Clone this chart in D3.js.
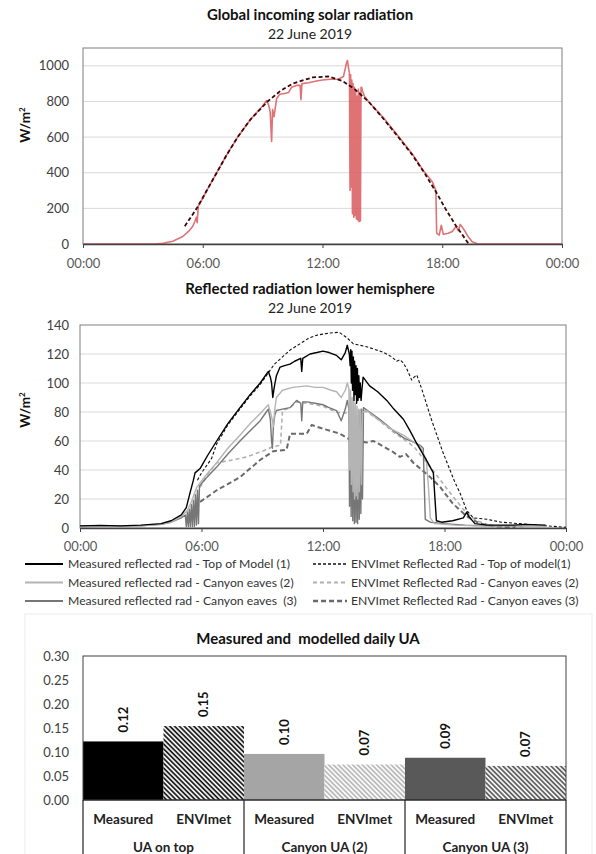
<!DOCTYPE html>
<html>
<head>
<meta charset="utf-8">
<script src="https://cdn.jsdelivr.net/npm/d3@7"></script>
<style>
  body { margin: 0; background: #fff; }
  svg text { font-family: Lato, "Liberation Sans", sans-serif; }
</style>
</head>
<body>
<svg id="chart" width="596" height="854"></svg>
<script>
// ---- data (hour of day, value) ----
var timeTicks = [0, 6, 12, 18, 24];
var timeLabels = ['00:00', '06:00', '12:00', '18:00', '00:00'];

var globalMeasured = [
  [0,0],[3.6,0],[4.0,4],[4.5,15],[5.0,42],[5.3,72],[5.5,100],[5.6,125],[5.68,150],[5.72,120],
  [5.78,215],[5.85,225],[6.2,300],[6.7,400],[7.2,500],[7.75,600],[8.4,700],[9.0,775],[9.2,805],
  [9.3,780],[9.38,740],[9.45,575],[9.5,755],[9.57,715],[9.7,815],[9.85,840],[10.1,845],[10.3,850],
  [10.45,880],[10.7,890],[10.88,890],[10.92,810],[10.97,900],[11.3,905],[11.7,915],[12.0,920],
  [12.4,925],[12.8,925],[13.05,940],[13.2,1015],[13.25,1030],[13.3,990],[13.35,960],[13.38,300],
  [13.41,950],[13.44,320],[13.47,920],[13.5,170],[13.53,900],[13.57,150],[13.6,880],[13.63,160],
  [13.66,860],[13.7,140],[13.73,830],[13.77,135],[13.8,870],[13.83,125],[13.87,850],[13.9,130],
  [13.93,880],[13.96,880],[14.0,860],[14.1,830],[14.3,800],[15.0,715],[15.8,605],[16.5,505],
  [17.1,405],[17.5,350],[17.68,300],[17.72,60],[17.85,50],[17.95,105],[18.05,55],[18.3,60],
  [18.5,70],[18.7,100],[18.8,75],[18.9,110],[19.0,95],[19.15,70],[19.3,40],[19.5,12],[19.8,0],[24,0]
];
var globalModel = [
  [5.1,100],[5.7,200],[6.2,300],[6.7,400],[7.2,500],[7.75,600],[8.4,700],[9.25,800],[9.9,860],
  [10.5,900],[11.5,935],[12.3,940],[13.0,915],[13.6,870],[14.3,800],[15.0,710],[15.8,600],
  [16.5,500],[17.1,400],[17.7,290],[18.15,200],[18.7,100],[19.3,5]
];

var reflTopMeasured = [
  [0,1.5],[1,1.8],[2,1.5],[3,2],[4,3],[4.5,5],[5.0,9],[5.25,14],[5.43,24],[5.6,33],[5.68,38],
  [5.93,41],[6.3,50],[6.75,60],[7.3,72],[7.9,83],[8.4,92],[8.9,100],[9.3,108],[9.4,104],[9.46,100],
  [9.52,90],[9.58,96],[9.63,100],[9.7,105],[9.88,111],[10.1,112],[10.37,113],[10.6,115],[10.9,117],
  [10.95,108],[11.0,117],[11.36,120],[11.7,121],[12.0,122],[12.3,121],[12.67,119],[12.9,116],
  [13.1,121],[13.2,126],[13.3,120],[13.34,112],[13.37,123],[13.4,100],[13.43,122],[13.46,95],
  [13.5,118],[13.53,88],[13.56,115],[13.6,92],[13.63,112],[13.66,86],[13.7,110],[13.73,88],
  [13.77,105],[13.8,90],[13.84,100],[13.88,88],[13.92,95],[13.98,104],[14.3,98],[14.7,94],
  [15.15,88],[15.5,82],[15.97,75],[16.3,67],[16.6,59],[17.1,47],[17.45,38],[17.53,20],[17.6,5],
  [17.86,4],[18.4,5],[18.93,7],[19.1,11],[19.2,8],[19.26,7],[19.5,3],[20.1,2],[21.4,2],[22,2.5],[23,2]
];
var reflCanyon2Measured = [
  [0,1],[3,1.5],[4,2.5],[4.5,4],[5.0,8],[5.3,12],[5.5,18],[5.76,28],[6.2,36],[6.75,45],[7.3,55],
  [7.9,64],[8.4,72],[8.9,79],[9.3,85],[9.4,80],[9.46,77],[9.55,70],[9.62,82],[9.7,90],[10.0,95],
  [10.5,97],[11.2,98],[11.6,97],[12.0,97],[12.4,95],[12.67,94],[12.9,90],[13.1,95],[13.2,100],
  [13.28,96],[13.32,40],[13.36,95],[13.4,30],[13.44,90],[13.48,25],[13.52,88],[13.56,20],[13.6,86],
  [13.64,22],[13.68,84],[13.72,20],[13.76,82],[13.8,25],[13.85,82],[13.9,30],[13.95,80],[14.15,81],
  [14.8,74],[15.4,68],[15.97,64],[16.4,60],[16.8,56],[17.1,47],[17.2,30],[17.3,7],[17.5,3],
  [18.5,2],[19.5,1.5],[21,1.5],[22,2],[23,1.5]
];
var reflCanyon3Measured = [
  [0,1],[3,1.5],[4,2.5],[4.5,4],[5.0,7],[5.2,9],[5.25,1],[5.3,11],[5.35,1],[5.4,13],[5.45,1],
  [5.5,16],[5.55,1],[5.6,19],[5.65,1],[5.7,23],[5.75,2],[5.8,26],[5.85,3],[5.9,29],[6.2,34],
  [6.75,42],[7.3,51],[7.9,60],[8.4,67],[8.9,74],[9.2,80],[9.3,82],[9.4,75],[9.46,60],[9.5,55],
  [9.55,70],[9.62,78],[9.7,81],[10.0,82],[10.37,83],[10.7,88],[10.9,86],[10.95,74],[11.0,87],
  [11.2,87],[11.6,86],[12.0,85],[12.3,83],[12.67,81],[12.9,74],[13.1,82],[13.2,88],[13.28,82],
  [13.31,15],[13.35,84],[13.39,8],[13.43,80],[13.47,5],[13.51,78],[13.55,3],[13.59,76],[13.63,4],
  [13.67,75],[13.71,3],[13.75,78],[13.79,6],[13.83,80],[13.87,10],[13.91,82],[13.95,20],[14.0,83],
  [14.3,80],[14.8,75],[15.4,68],[16.0,62],[16.5,59],[16.8,57],[16.95,55],[17.05,6],[17.3,4],
  [18.0,3],[19,2],[20,1.5],[21.5,1.5],[23,1.5]
];
var reflTopModel = [
  [5.8,33],[6.0,38],[6.5,48],[6.75,58],[7.3,71],[7.9,82],[8.4,91],[8.9,99],[9.3,107],[9.6,113],
  [10.0,118],[10.4,123],[10.86,127],[11.3,131],[11.7,133],[12.35,134.5],[12.8,135],[13.2,131],
  [13.5,127],[14.15,125],[14.6,123],[15.0,121],[15.4,118],[15.64,115],[15.8,116],[15.95,114],
  [16.13,110],[16.38,102],[16.5,104],[16.63,105.5],[16.85,97],[17.1,86],[17.35,75],[17.6,65],
  [17.9,53],[18.27,40],[18.5,32],[18.77,24],[19.1,12],[19.42,7],[20.1,6],[20.8,4],[21.7,3],
  [23,1.5],[24,0.5]
];
var reflCanyon2Model = [
  [5.93,28],[6.3,37],[6.75,45],[7.56,47],[8.23,49],[9.2,54],[9.5,56],[9.9,57],[10.0,81],
  [10.37,83],[10.7,87],[11.2,86],[11.6,85],[12.0,84],[12.3,82],[12.67,80],[13.0,79],[13.3,80],
  [14.0,81],[14.3,79],[14.8,74],[15.4,67],[16.0,61],[16.5,56],[17.0,47],[17.3,42],[17.8,33],
  [18.4,22],[19.1,10],[19.6,5],[20.2,2],[21,1],[22,0.5]
];
var reflCanyon3Model = [
  [5.93,18],[6.75,26],[7.9,35],[8.9,47],[9.55,53],[10.2,54],[10.3,60],[10.37,65],[11.2,65],
  [11.44,71],[12.0,68.5],[12.84,65],[13.33,61],[14.15,59],[14.5,60],[15.0,56],[15.4,53],[15.8,49],
  [16.1,51],[16.46,45],[16.8,41],[17.3,35],[17.8,28],[18.4,17],[19.1,8],[19.75,3],[20.5,1],[21.5,0.5]
];

var uaGroups = ['UA on top', 'Canyon UA (2)', 'Canyon UA (3)'];
var uaTypes = ['Measured', 'ENVImet'];
var uaMeasured = [0.122, 0.096, 0.088];
var uaModel = [0.154, 0.074, 0.071];
var uaTicks = [0, 0.05, 0.1, 0.15, 0.2, 0.25, 0.3];

// ---- drawing ----
var svg = d3.select('#chart');
var defs = svg.append('defs');
var fmtTime = function(d, i) { return timeLabels[i]; };

function hatch(id, color) {
  var p = defs.append('pattern')
    .attr('id', id)
    .attr('patternUnits', 'userSpaceOnUse')
    .attr('width', 3.4).attr('height', 3.4)
    .attr('patternTransform', 'rotate(-45)');
  p.append('rect').attr('width', 3.4).attr('height', 3.4).attr('fill', '#fff');
  p.append('line').attr('x1', 1).attr('y1', 0).attr('x2', 1).attr('y2', 3.4)
    .attr('stroke', color).attr('stroke-width', 1.7);
}
hatch('hatch0', '#111');
hatch('hatch1', '#b5b5b5');
hatch('hatch2', '#555');

function timeChart(c) {
  var g = svg.append('g');
  var x = d3.scaleLinear().domain([0, 24]).range([c.left, c.right]);
  var y = d3.scaleLinear().domain([0, c.yMax]).range([c.bottom, c.top]);

  g.append('text').attr('x', 310).attr('y', c.titleY)
    .attr('text-anchor', 'middle').attr('font-size', 15).attr('font-weight', 'bold')
    .attr('fill', '#111').text(c.title);
  g.append('text').attr('x', 310).attr('y', c.titleY + 18.5)
    .attr('text-anchor', 'middle').attr('font-size', 14).attr('fill', '#222')
    .text('22 June 2019');

  g.append('g').selectAll('line')
    .data(c.grid)
    .enter().append('line')
    .attr('x1', c.left).attr('x2', c.right)
    .attr('y1', d => y(d)).attr('y2', d => y(d))
    .attr('stroke', '#d9d9d9').attr('stroke-width', 1);

  g.append('rect')
    .attr('x', c.left).attr('y', c.top)
    .attr('width', c.right - c.left).attr('height', c.bottom - c.top)
    .attr('fill', 'none').attr('stroke', '#7f7f7f').attr('stroke-width', 1);

  var yAxis = g.append('g')
    .attr('transform', 'translate(' + c.left + ',0)')
    .call(d3.axisLeft(y).tickValues(c.yTicks).tickFormat(d3.format('d'))
      .tickSize(0).tickPadding(c.left - 69));
  yAxis.select('.domain').remove();
  yAxis.selectAll('text').attr('font-size', 13).attr('fill', '#404040')
    .style('font-family', 'Lato, sans-serif');

  var line = d3.line().x(d => x(d[0])).y(d => y(d[1]));
  c.series.forEach(function(s) {
    g.append('path')
      .datum(s.data)
      .attr('d', line)
      .attr('fill', 'none')
      .attr('stroke', s.color)
      .attr('stroke-width', s.width)
      .attr('stroke-dasharray', s.dash || null)
      .attr('stroke-opacity', s.opacity || 1)
      .attr('stroke-linejoin', 'round');
  });

  var xAxis = g.append('g')
    .attr('transform', 'translate(0,' + c.bottom + ')')
    .call(d3.axisBottom(x).tickValues(timeTicks).tickFormat(fmtTime)
      .tickSizeInner(4).tickSizeOuter(0).tickPadding(c.xPad));
  xAxis.select('.domain').attr('stroke', '#404040').attr('stroke-width', 1.3);
  xAxis.selectAll('.tick line').attr('stroke', '#404040');
  xAxis.selectAll('text').attr('font-size', 13).attr('fill', '#595959')
    .style('font-family', 'Lato, sans-serif');

  var yl = g.append('text')
    .attr('transform', 'translate(' + 30 + ',' + c.yLabelY + ') rotate(-90)')
    .attr('text-anchor', 'middle').attr('font-size', 13.5).attr('font-weight', 'bold')
    .attr('fill', '#111');
  yl.append('tspan').text('W/m');
  yl.append('tspan').attr('font-size', 8).attr('dy', -5).text('2');
  return { x: x, y: y };
}

timeChart({
  left: 83, right: 562, top: 48, bottom: 244, yMax: 1100,
  yTicks: [0, 200, 400, 600, 800, 1000], grid: [200, 400, 600, 800, 1000],
  title: 'Global incoming solar radiation', titleY: 20, yLabelY: 125, xPad: 11,
  series: [
    { data: globalMeasured, color: '#d9595c', width: 1.6, opacity: 0.85 },
    { data: globalModel, color: '#3a0808', width: 1.8, dash: '4,2.5' }
  ]
});

var legendSeries = [
  { data: reflTopMeasured, color: '#000', width: 1.4, label: 'Measured reflected rad - Top of Model (1)' },
  { data: reflCanyon2Measured, color: '#b4b4b4', width: 1.4, label: 'Measured reflected rad - Canyon eaves (2)' },
  { data: reflCanyon3Measured, color: '#767676', width: 1.4, label: 'Measured reflected rad - Canyon eaves  (3)' },
  { data: reflTopModel, color: '#111', width: 1.1, dash: '3,2', label: 'ENVImet Reflected Rad - Top of model(1)' },
  { data: reflCanyon2Model, color: '#b0b0b0', width: 1.6, dash: '4,3', label: 'ENVImet Reflected Rad - Canyon eaves (2)' },
  { data: reflCanyon3Model, color: '#6a6a6a', width: 2, dash: '5,3', label: 'ENVImet Reflected Rad - Canyon eaves (3)' }
];

timeChart({
  left: 80, right: 566, top: 325, bottom: 528, yMax: 140,
  yTicks: [0, 20, 40, 60, 80, 100, 120, 140], grid: [20, 40, 60, 80, 100, 120],
  title: 'Reflected radiation lower hemisphere', titleY: 294, yLabelY: 410, xPad: 10,
  series: [legendSeries[4], legendSeries[5], legendSeries[3], legendSeries[2], legendSeries[1], legendSeries[0]]
});

// legend
var legend = svg.append('g');
legendSeries.forEach(function(s, i) {
  var col = i < 3 ? 0 : 1;
  var row = i % 3;
  var lx = col === 0 ? 25 : 313;
  var ly = 564 + row * 18.5;
  legend.append('line')
    .attr('x1', lx).attr('x2', lx + (col === 0 ? 38 : 34))
    .attr('y1', ly).attr('y2', ly)
    .attr('stroke', s.color).attr('stroke-width', s.width + 0.4)
    .attr('stroke-dasharray', s.dash || null);
  legend.append('text')
    .attr('x', lx + (col === 0 ? 43 : 38)).attr('y', ly + 4.3)
    .attr('font-size', 12.2).attr('fill', '#333')
    .style('white-space', 'pre')
    .text(s.label);
});

// ---- bar chart ----
var bar = svg.append('g');
bar.append('rect').attr('x', 25).attr('y', 614).attr('width', 567).attr('height', 250)
  .attr('fill', 'none').attr('stroke', '#ececec');

var bx = d3.scaleBand().domain(uaGroups).range([83, 566]).padding(0);
var bt = d3.scaleBand().domain(uaTypes).range([0, bx.bandwidth()]).padding(0);
var by = d3.scaleLinear().domain([0, 0.3]).range([800, 656]);

bar.append('text').attr('x', 308).attr('y', 644)
  .attr('text-anchor', 'middle').attr('font-size', 15).attr('font-weight', 'bold')
  .attr('fill', '#111').text('Measured and  modelled daily UA')
  .style('white-space', 'pre');

var bars = [];
uaGroups.forEach(function(gname, i) {
  bars.push({ group: gname, type: 'Measured', value: uaMeasured[i], idx: i });
  bars.push({ group: gname, type: 'ENVImet', value: uaModel[i], idx: i });
});
var measuredFill = ['#000000', '#a5a5a5', '#595959'];

bar.selectAll('rect.bar')
  .data(bars)
  .enter().append('rect')
  .attr('class', 'bar')
  .attr('x', d => bx(d.group) + bt(d.type))
  .attr('width', bt.bandwidth())
  .attr('y', d => by(d.value))
  .attr('height', d => by(0) - by(d.value))
  .attr('fill', d => d.type === 'Measured' ? measuredFill[d.idx] : 'url(#hatch' + d.idx + ')');

bar.selectAll('text.val')
  .data(bars)
  .enter().append('text')
  .attr('class', 'val')
  .attr('transform', d => 'translate(' + (bx(d.group) + bt(d.type) + bt.bandwidth() / 2 + 4.5) + ',' + (by(d.value) - 9) + ') rotate(-90)')
  .attr('font-size', 13).attr('font-weight', 'bold').attr('fill', '#111')
  .text(d => d3.format('.2f')(d.value));

bar.append('rect').attr('x', 83).attr('y', 656).attr('width', 483).attr('height', 144)
  .attr('fill', 'none').attr('stroke', '#404040').attr('stroke-width', 1);

var byAxis = bar.append('g').attr('transform', 'translate(83,0)')
  .call(d3.axisLeft(by).tickValues(uaTicks).tickFormat(d3.format('.2f')).tickSize(0).tickPadding(14));
byAxis.select('.domain').remove();
byAxis.selectAll('text').attr('font-size', 13).attr('fill', '#404040')
  .style('font-family', 'Lato, sans-serif');

// category axis below bars
bar.append('line').attr('x1', 83).attr('x2', 566).attr('y1', 800).attr('y2', 800)
  .attr('stroke', '#222').attr('stroke-width', 1.2);
var seps = [83].concat(uaGroups.map(g => bx(g) + bx.bandwidth()));
bar.selectAll('line.sep')
  .data(seps)
  .enter().append('line')
  .attr('class', 'sep')
  .attr('x1', d => d).attr('x2', d => d)
  .attr('y1', 800).attr('y2', 854)
  .attr('stroke', '#222').attr('stroke-width', 1.2);

bar.selectAll('text.type')
  .data(bars)
  .enter().append('text')
  .attr('class', 'type')
  .attr('x', d => bx(d.group) + bt(d.type) + bt.bandwidth() / 2)
  .attr('y', 824)
  .attr('text-anchor', 'middle').attr('font-size', 13.5).attr('font-weight', 'bold')
  .attr('fill', '#222')
  .text(d => d.type);

bar.selectAll('text.grp')
  .data(uaGroups)
  .enter().append('text')
  .attr('class', 'grp')
  .attr('x', d => bx(d) + bx.bandwidth() / 2)
  .attr('y', 852)
  .attr('text-anchor', 'middle').attr('font-size', 13.5).attr('font-weight', 'bold')
  .attr('fill', '#222')
  .text(d => d);
</script>
</body>
</html>
